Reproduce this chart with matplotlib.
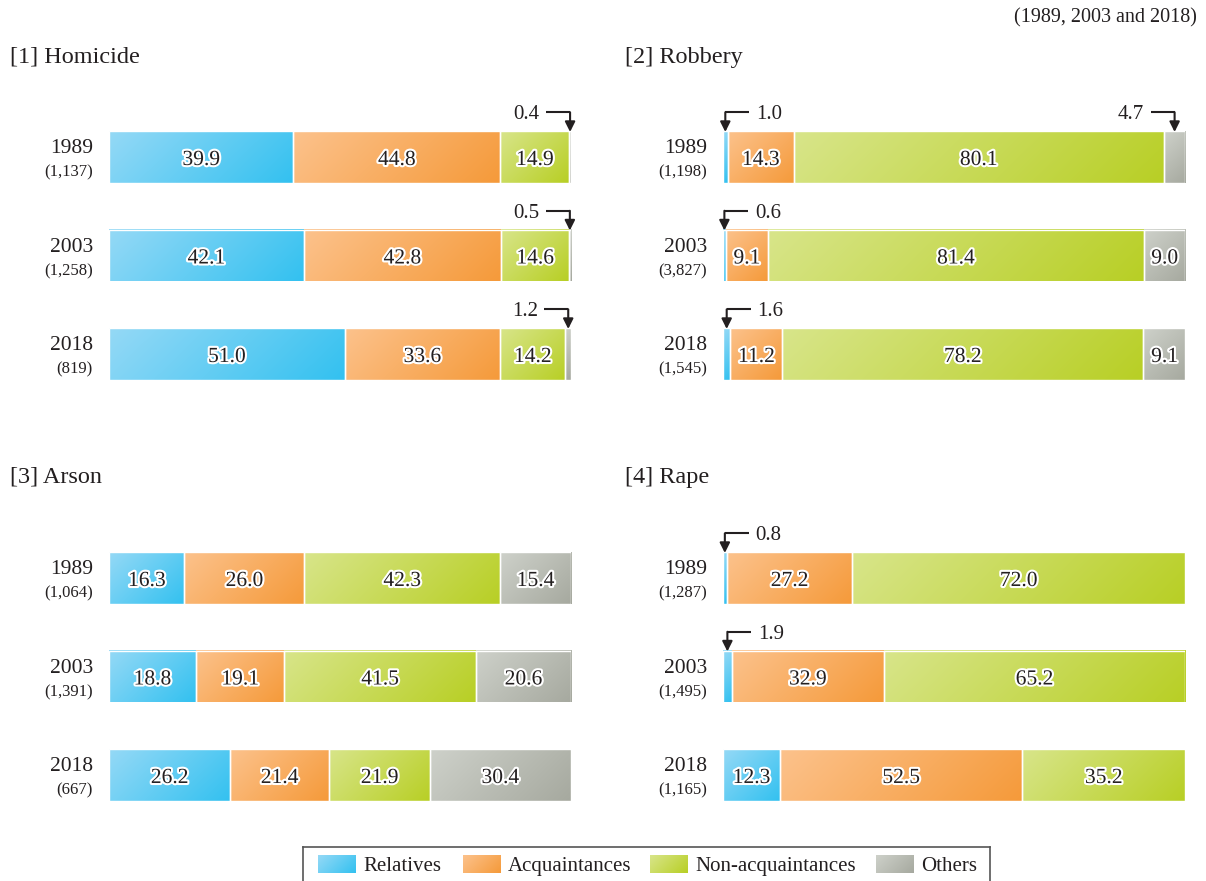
import numpy as np
import matplotlib
matplotlib.use("Agg")
import matplotlib.pyplot as plt
from matplotlib.patches import Rectangle
from matplotlib.colors import to_rgb
import matplotlib.patheffects as pe

plt.rcParams['font.family'] = ['Liberation Serif', 'DejaVu Serif']

# ---------------------------------------------------------------- data
years = ["1989", "2003", "2018"]
crime_titles = ["[1] Homicide", "[2] Robbery", "[3] Arson", "[4] Rape"]
categories = ["Relatives", "Acquaintances", "Non-acquaintances", "Others"]

case_counts = [
    ["1,137", "1,258", "819"],    # homicide
    ["1,198", "3,827", "1,545"],  # robbery
    ["1,064", "1,391", "667"],    # arson
    ["1,287", "1,495", "1,165"],  # rape
]

relatives = [
    [39.9, 42.1, 51.0],
    [1.0, 0.6, 1.6],
    [16.3, 18.8, 26.2],
    [0.8, 1.9, 12.3],
]
acquaintances = [
    [44.8, 42.8, 33.6],
    [14.3, 9.1, 11.2],
    [26.0, 19.1, 21.4],
    [27.2, 32.9, 52.5],
]
non_acquaintances = [
    [14.9, 14.6, 14.2],
    [80.1, 81.4, 78.2],
    [42.3, 41.5, 21.9],
    [72.0, 65.2, 35.2],
]
others = [
    [0.4, 0.5, 1.2],
    [4.7, 9.0, 9.1],
    [15.4, 20.6, 30.4],
    [0.0, 0.0, 0.0],
]

subtitle = "(1989, 2003 and 2018)"

# gradient end colours per category (light top-left -> saturated bottom-right)
light_colors = ["#95d9f6", "#fcc28c", "#d8e58a", "#ced1ca"]
dark_colors = ["#33c1f0", "#f59a3a", "#b8cf25", "#a6a99f"]

TEXT = "#231f20"

# ---------------------------------------------------------------- figure
W, H = 1206, 881
fig = plt.figure(figsize=(W / 100, H / 100), dpi=100)


def px_axes(x0, y0, x1, y1):
    return fig.add_axes([x0 / W, 1 - y1 / H, (x1 - x0) / W, (y1 - y0) / H])


def gradient_rect(ax, x0, x1, y_top, y_bot, c0, c1, edge="white"):
    """Rectangle filled with a diagonal linear gradient."""
    p0 = ax.transData.transform((x0, y_top))
    p1 = ax.transData.transform((x1, y_bot))
    w_px = abs(p1[0] - p0[0])
    h_px = abs(p1[1] - p0[1])
    nx, ny = 120, 40
    u = np.linspace(0, 1, nx)[None, :]
    v = np.linspace(0, 1, ny)[:, None]
    t = (u * w_px + v * h_px) / (w_px + h_px)
    a = np.array(to_rgb(c0))
    b = np.array(to_rgb(c1))
    img = a + (b - a) * t[..., None]
    ax.imshow(img, extent=(x0, x1, y_bot, y_top), origin="upper",
              aspect="auto", interpolation="bilinear", zorder=2)
    ax.add_patch(Rectangle((x0, min(y_top, y_bot)), x1 - x0, abs(y_bot - y_top),
                           facecolor="none", edgecolor=edge, lw=1.0, zorder=3))


BAR_H = 52 / 98.5
value_fx = [pe.withStroke(linewidth=3, foreground="white")]


def callout(ax, xc, row, value, side):
    top = row - BAR_H / 2
    ly = top - 0.19
    if side == "left":
        x_end = xc + 5.2
        tx, ha = x_end + 1.4, "left"
    else:
        x_end = xc - 5.2
        tx, ha = x_end - 1.4, "right"
    ax.plot([x_end, xc], [ly, ly], color=TEXT, lw=1.5,
            solid_capstyle="butt", clip_on=False, zorder=4)
    ax.annotate("", xy=(xc, top + 0.01), xytext=(xc, ly),
                arrowprops=dict(arrowstyle="-|>", color=TEXT, lw=1.5,
                                shrinkA=0, shrinkB=0, mutation_scale=15),
                annotation_clip=False, zorder=4)
    ax.text(tx, ly, f"{value:.1f}", ha=ha, va="center_baseline",
            fontsize=15, color=TEXT)


panel_boxes = [
    (109, 97.9, 571, 413.1),
    (723, 97.9, 1185, 413.1),
    (109, 518.9, 571, 834.1),
    (723, 518.9, 1185, 834.1),
]
title_pos = [(10, 57), (625, 57), (10, 477), (625, 477)]

for k in range(4):
    ax = px_axes(*panel_boxes[k])
    ax.set_xlim(0, 100)
    ax.set_ylim(2.6, -0.6)
    ax.axis("off")

    series = [relatives[k], acquaintances[k], non_acquaintances[k], others[k]]
    n_cat = len(series)
    for r in range(len(years)):
        left = 0.0
        for c in range(n_cat):
            v = series[c][r]
            if v <= 0:
                continue
            gradient_rect(ax, left, left + v, r - BAR_H / 2, r + BAR_H / 2,
                          light_colors[c], dark_colors[c])
            xc = left + v / 2
            if v >= 5:
                ax.text(xc, r + 0.01, f"{v:.1f}", ha="center", va="center_baseline",
                        fontsize=15.5, color=TEXT, path_effects=value_fx, zorder=5)
            else:
                callout(ax, xc, r, v, "left" if c == 0 else "right")
            left += v

        ax.text(-3.5, r - 0.04, years[r], ha="right", va="baseline",
                fontsize=15.5, color=TEXT, clip_on=False)
        ax.text(-3.5, r + 0.20, f"({case_counts[k][r]})", ha="right",
                va="baseline", fontsize=12, color=TEXT, clip_on=False)

    tx, ty = title_pos[k]
    fig.text(tx / W, 1 - ty / H, crime_titles[k], ha="left", va="center",
             fontsize=17.5, color=TEXT)

fig.text(1197 / W, 1 - 18 / H, subtitle, ha="right", va="center",
         fontsize=14.5, color=TEXT)

# ---------------------------------------------------------------- legend
lg = px_axes(303, 847, 990, 900)
lg.set_xlim(303, 990)
lg.set_ylim(900, 847)
lg.set_xticks([])
lg.set_yticks([])
for s in ("top", "left", "right"):
    lg.spines[s].set_color("#555555")
    lg.spines[s].set_linewidth(1.2)
lg.spines["bottom"].set_visible(False)

swatch_x = [318, 463, 650, 876]
for c, name in enumerate(categories):
    x0 = swatch_x[c]
    gradient_rect(lg, x0, x0 + 38, 855, 873, light_colors[c], dark_colors[c],
                  edge="none")
    lg.text(x0 + 45, 866, name, ha="left", va="center", fontsize=15,
            color=TEXT)

fig.savefig("out.png", dpi=100)
